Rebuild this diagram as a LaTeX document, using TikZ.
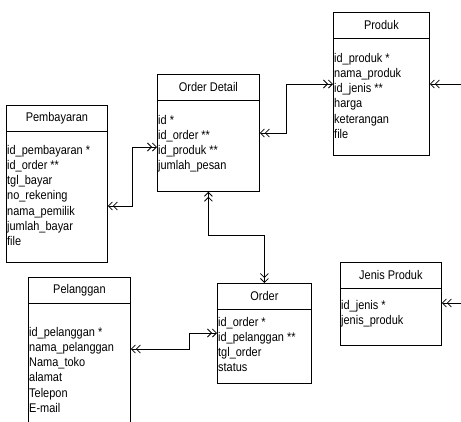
\documentclass[tikz,border=0pt]{standalone}
\usepackage{fontspec}
\setmainfont{Liberation Sans}[FakeStretch=0.87]
\usetikzlibrary{arrows.meta,calc}

\tikzset{
  dbl/.tip={Straight Barb[length=4pt,width=8pt] Straight Barb[length=4pt,width=8pt]},
  entity/.style={draw, rectangle, inner sep=0pt, anchor=north west, line width=.8pt},
  title/.style={font=\fontsize{12.6}{14}\selectfont, inner sep=0pt},
  attr/.style={font=\fontsize{12.6}{14}\selectfont, inner sep=0pt, anchor=west, text height=9pt, text depth=3pt},
  rel/.style={line width=.8pt, dbl-dbl},
  relin/.style={line width=.8pt, -dbl},
}

% tabel: nama, kiri, atas, lebar, tinggi, judul, baris pertama, kolom
\newcommand{\entitas}[8]{%
  \node[entity, minimum width=#4pt, minimum height=#5pt] (#1) at (#2,#3) {};
  \draw[line width=.8pt] ([yshift=-26pt]#1.north west) -- ([yshift=-26pt]#1.north east);
  \node[title] (#1-t) at ([yshift=-13pt]#1.north) {#6};
  \foreach \r [count=\i] in {#8}
    \node[attr] (#1-\i) at ([xshift=1pt,yshift=-#7pt-15.3pt*(\i-1)]#1.north west) {\r};
}

\begin{document}
\begin{tikzpicture}[x=1pt,y=-1pt]
\clip (0,0) rectangle (461,421);

%%%% tabel
\entitas{pr}{333}{12}{96}{143}{Produk}{47}{id\_produk *,nama\_produk,id\_jenis **,harga,keterangan,file}
\entitas{od}{157}{74}{102}{117}{Order Detail}{47}{id *,id\_order **,id\_produk **,jumlah\_pesan}
\entitas{pb}{6}{105}{101}{157}{Pembayaran}{46}{id\_pembayaran *,id\_order **,tgl\_bayar,no\_rekening,nama\_pemilik,jumlah\_bayar,file}
\entitas{pl}{28}{277}{102}{160}{Pelanggan}{56}{id\_pelanggan *,nama\_pelanggan,Nama\_toko,alamat,Telepon,E-mail}
\entitas{or}{217}{283}{94}{100}{Order}{40}{id\_order *,id\_pelanggan **,tgl\_order,status}
\entitas{jp}{340}{262}{101}{83}{Jenis Produk}{44}{id\_jenis *,jenis\_produk}

%%%% titik sambung
\coordinate (od-r) at ($(od.north east)+(0,59)$);
\coordinate (od-l) at ($(od.north west)+(0,73)$);
\coordinate (pr-l) at ($(pr.north west)+(0,72)$);
\coordinate (pr-r) at ($(pr.north east)+(0,72)$);
\coordinate (pb-r) at ($(pb.north east)+(0,101)$);
\coordinate (pl-r) at ($(pl.north east)+(0,72)$);
\coordinate (or-l) at ($(or.north west)+(0,50)$);
\coordinate (jp-r) at ($(jp.north east)+(0,41)$);
\coordinate (pr-out) at (470,84);
\coordinate (jp-out) at (470,303);

%%%% relasi
\draw[rel] (od-r) -- ++(27,0) |- (pr-l);
\draw[rel] (pb-r) -- ++(25,0) |- (od-l);
\draw[rel] (od.south) -- ++(0,44) -| (or.north);
\draw[rel] (pl-r) -- ++(59,0) |- (or-l);
\draw[relin] (pr-out) -- (pr-r);
\draw[relin] (jp-out) -- (jp-r);
\end{tikzpicture}
\end{document}
